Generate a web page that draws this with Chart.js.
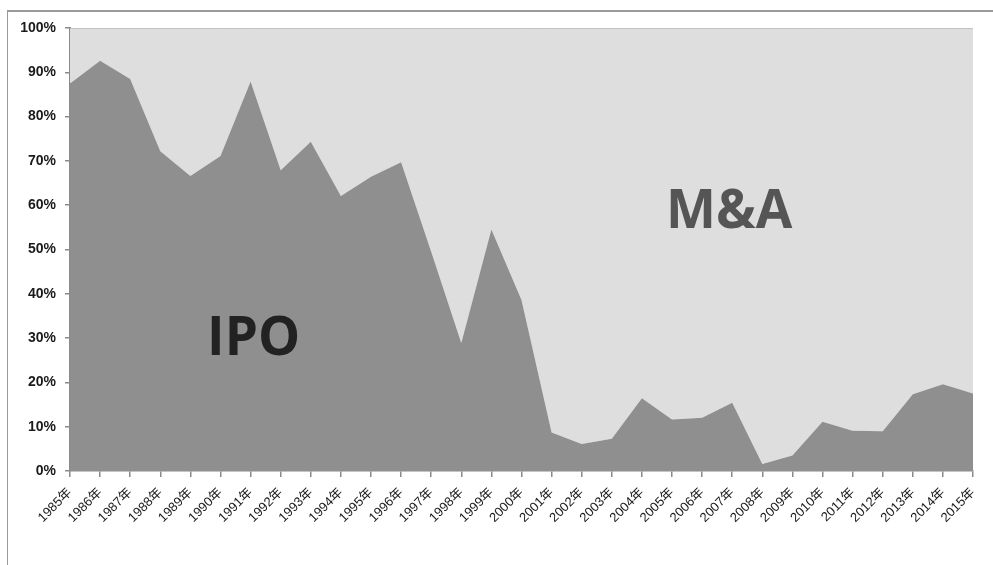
<!DOCTYPE html>
<html>
<head>
<meta charset="utf-8">
<script src="https://cdn.jsdelivr.net/npm/chart.js@4.4.1/dist/chart.umd.min.js"></script>
<style>
html,body{margin:0;padding:0;background:#fff;}
#wrap{position:relative;width:993px;height:565px;}
#frame{position:absolute;left:7px;top:10px;width:990px;height:560px;border-left:1px solid #9a9a9a;border-top:2px solid #9a9a9a;box-sizing:border-box;}
canvas{position:absolute;left:0;top:0;}
</style>
</head>
<body>
<div id="wrap">
<div id="frame"></div>
<canvas id="c" width="993" height="565"></canvas>
</div>
<script>
const years = ['1985年','1986年','1987年','1988年','1989年','1990年','1991年','1992年','1993年','1994年','1995年','1996年','1997年','1998年','1999年','2000年','2001年','2002年','2003年','2004年','2005年','2006年','2007年','2008年','2009年','2010年','2011年','2012年','2013年','2014年','2015年'];
const ipoShare = [87.5,92.6,88.5,72.2,66.6,71.1,87.9,67.9,74.3,62.1,66.4,69.7,49.5,28.9,54.5,38.6,8.7,6.1,7.3,16.4,11.6,12.0,15.4,1.6,3.5,11.1,9.1,9.0,17.3,19.6,17.5];
const maShare = ipoShare.map(v => +(100 - v).toFixed(1));
const yTicks = [0,10,20,30,40,50,60,70,80,90,100];
const seriesNames = ['IPO','M&A'];

const textLabels = {
  id: 'textLabels',
  afterDatasetsDraw(chart) {
    const ctx = chart.ctx;
    const xs = chart.scales.x, ys = chart.scales.y;
    ctx.save();
    ctx.textAlign = 'center';
    ctx.textBaseline = 'middle';
    ctx.fillStyle = '#222222';
    ctx.font = 'bold 53px "Open Sans", "Liberation Sans", sans-serif';
    ctx.fillText(seriesNames[0], xs.getPixelForValue(6.1), ys.getPixelForValue(29.6));
    ctx.fillStyle = '#555555';
    ctx.font = 'bold 53px "Open Sans", "Liberation Sans", sans-serif';
    ctx.fillText(seriesNames[1], xs.getPixelForValue(21.9), ys.getPixelForValue(58.2));
    ctx.restore();
  }
};

new Chart(document.getElementById('c'), {
  type: 'line',
  data: {
    labels: years,
    datasets: [
      {label: seriesNames[0], data: ipoShare, fill: 'origin', backgroundColor: '#8f8f8f', borderWidth: 0, borderColor: '#8f8f8f', pointRadius: 0, tension: 0},
      {label: seriesNames[1], data: maShare, fill: '-1', backgroundColor: '#dedede', borderWidth: 1, borderColor: '#a8a8a8', pointRadius: 0, tension: 0}
    ]
  },
  options: {
    responsive: false,
    animation: false,
    events: [],
    layout: {padding: {top: 28, right: 20, left: 0, bottom: 0}},
    plugins: {legend: {display: false}, tooltip: {enabled: false}},
    scales: {
      x: {
        offset: false,
        grid: {display: true, drawOnChartArea: false, drawTicks: true, tickLength: 6, color: '#8a8a8a', lineWidth: 1.5},
        border: {display: true, color: '#8a8a8a', width: 1.5},
        ticks: {minRotation: 45, maxRotation: 45, autoSkip: false, padding: 8, color: '#1a1a1a', font: {family: '"Liberation Sans", "Noto Sans CJK SC", sans-serif', size: 13}},
        afterFit(scale) { scale.height = 94; }
      },
      y: {
        stacked: true,
        min: 0, max: 100,
        afterBuildTicks(scale) { scale.ticks = yTicks.map(v => ({value: v})); },
        grid: {display: true, drawOnChartArea: false, drawTicks: true, tickLength: 5, color: '#8a8a8a', lineWidth: 1.5},
        border: {display: true, color: '#8a8a8a', width: 2},
        ticks: {padding: 9, color: '#1a1a1a', font: {family: '"Liberation Sans", sans-serif', size: 14, weight: 'bold'}, callback: v => v + '%'},
        afterFit(scale) { scale.width = 70; }
      }
    }
  },
  plugins: [textLabels]
});
</script>
</body>
</html>
